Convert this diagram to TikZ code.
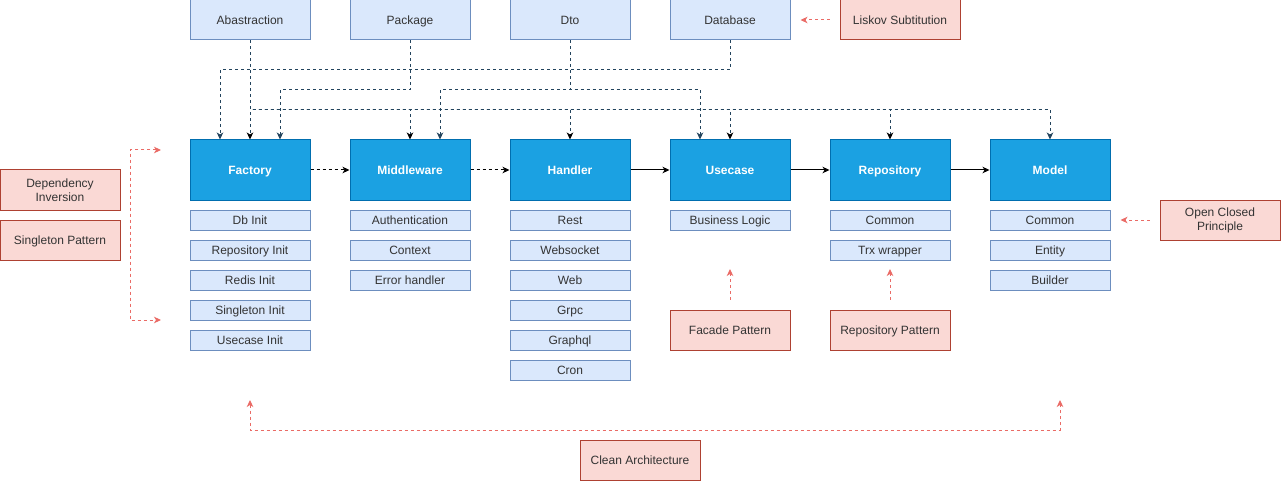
\documentclass[tikz,border=0pt]{standalone}
\usepackage{fontspec}
\setmainfont{Liberation Sans}
\usetikzlibrary{arrows.meta}
\definecolor{mainfill}{HTML}{1BA1E2}
\definecolor{mainline}{HTML}{006EAF}
\definecolor{subfill}{HTML}{DAE8FC}
\definecolor{subline}{HTML}{6C8EBF}
\definecolor{redfill}{HTML}{FAD9D5}
\definecolor{redline}{HTML}{AE4132}
\definecolor{redarrow}{HTML}{EA6B66}
\definecolor{darkline}{HTML}{23445D}
\definecolor{txt}{HTML}{333333}
\begin{document}
\begin{tikzpicture}[x=1pt,y=-1pt,line width=1pt,
  every node/.style={font=\fontsize{12}{14}\selectfont,align=center,inner sep=0pt,line width=1pt,text=txt},
  one/.style={text height=8.8pt,text depth=0.4pt},
  mainbox/.style={one,draw=mainline,fill=mainfill,text=white,font=\fontsize{12}{14}\selectfont\bfseries,minimum width=120pt,minimum height=60pt},
  subbox/.style={one,draw=subline,fill=subfill,minimum width=120pt,minimum height=20pt},
  topbox/.style={one,draw=subline,fill=subfill,minimum width=120pt,minimum height=40pt},
  notebox/.style={draw=redline,fill=redfill,minimum width=120pt,minimum height=40pt},
  tipb/.tip={Stealth[length=7pt,width=6.5pt,inset=2pt,color=black]},
  tipd/.tip={Stealth[length=7pt,width=6.5pt,inset=2pt,color=darkline]},
  tipr/.tip={Stealth[length=7pt,width=6.5pt,inset=2pt,color=redarrow]},
  depb/.style={draw=darkline,dash pattern=on 3pt off 3pt,-tipb},
  depd/.style={draw=darkline,dash pattern=on 3pt off 3pt,-tipd},
  flowd/.style={draw=black,dash pattern=on 3pt off 3pt,-tipb},
  flows/.style={draw=black,-tipb},
  redarr/.style={draw=redarrow,dash pattern=on 3pt off 3pt,-tipr},
  redboth/.style={draw=redarrow,dash pattern=on 3pt off 3pt,tipr-tipr}
]
\useasboundingbox (0,0) rectangle (1281,481);

% top boxes
\node[topbox] (abs) at (250,20) {Abastraction};
\node[topbox] (pkg) at (410,20) {Package};
\node[topbox] (dto) at (570,20) {Dto};
\node[topbox] (db)  at (730,20) {Database};
\node[notebox,one] (lsk) at (900,20) {Liskov Subtitution};

% main boxes
\node[mainbox] (fac) at (250,170) {Factory};
\node[mainbox] (mid) at (410,170) {Middleware};
\node[mainbox] (han) at (570,170) {Handler};
\node[mainbox] (uc)  at (730,170) {Usecase};
\node[mainbox] (rep) at (890,170) {Repository};
\node[mainbox] (mod) at (1050,170) {Model};

% sub boxes
\node[subbox] (f1) at (250,220) {Db Init};
\node[subbox] (f2) at (250,250) {Repository Init};
\node[subbox] (f3) at (250,280) {Redis Init};
\node[subbox] (f4) at (250,310) {Singleton Init};
\node[subbox] (f5) at (250,340) {Usecase Init};

\node[subbox] (m1) at (410,220) {Authentication};
\node[subbox] (m2) at (410,250) {Context};
\node[subbox] (m3) at (410,280) {Error handler};

\node[subbox] (h1) at (570,220) {Rest};
\node[subbox] (h2) at (570,250) {Websocket};
\node[subbox] (h3) at (570,280) {Web};
\node[subbox] (h4) at (570,310) {Grpc};
\node[subbox] (h5) at (570,340) {Graphql};
\node[subbox] (h6) at (570,370) {Cron};

\node[subbox] (u1) at (730,220) {Business Logic};

\node[subbox] (r1) at (890,220) {Common};
\node[subbox] (r2) at (890,250) {Trx wrapper};

\node[subbox] (o1) at (1050,220) {Common};
\node[subbox] (o2) at (1050,250) {Entity};
\node[subbox] (o3) at (1050,280) {Builder};

% note boxes
\node[notebox] (dip) at (60,190) {Dependency\\Inversion};
\node[notebox,one] (sgp) at (60,240) {Singleton Pattern};
\node[notebox,one] (fcp) at (730,330) {Facade Pattern};
\node[notebox,one] (rpp) at (890,330) {Repository Pattern};
\node[notebox] (ocp) at (1220,220) {Open Closed\\Principle};
\node[notebox,one] (cla) at (640,460) {Clean Architecture};

% bus levels
\coordinate (y70) at (0,70);
\coordinate (y90) at (0,90);
\coordinate (y110) at (0,110);

% Abastraction bus
\draw[depb] (abs.south) -- (fac.north);
\draw[depb] (abs.south) -- (abs.south |- y110) -| (mid.north);
\draw[depb] (abs.south) -- (abs.south |- y110) -| (han.north);
\draw[depb] (abs.south) -- (abs.south |- y110) -| (uc.north);
\draw[depb] (abs.south) -- (abs.south |- y110) -| (rep.north);
\draw[depd] (abs.south) -- (abs.south |- y110) -| (mod.north);

% Database
\draw[depd] (db.south) -- (db.south |- y70) -| ([xshift=-30pt]fac.north);
% Package
\draw[depd] (pkg.south) -- (pkg.south |- y90) -| ([xshift=30pt]fac.north);
% Dto
\draw[depd] (dto.south) -- (dto.south |- y90) -| ([xshift=30pt]mid.north);
\draw[depd] (dto.south) -- (dto.south |- y90) -| ([xshift=-30pt]uc.north);

% main flow
\draw[flowd] (fac) -- (mid);
\draw[flowd] (mid) -- (han);
\draw[flows] (han) -- (uc);
\draw[flows] (uc) -- (rep);
\draw[flows] (rep) -- (mod);

% red pattern arrows
\draw[redarr] ([xshift=-10pt]lsk.west) -- ([xshift=10pt]db.east);
\draw[redarr] ([xshift=-10pt]ocp.west) -- ([xshift=10pt]o1.east);
\coordinate (fct) at (730,269);
\coordinate (rpt) at (890,269);
\draw[redarr] ([yshift=10pt]fcp.north) -- (fct);
\draw[redarr] ([yshift=10pt]rpp.north) -- (rpt);

\coordinate (lb1) at (161,150);
\coordinate (lb2) at (161,320);
\coordinate (lc1) at (130,150);
\coordinate (lc2) at (130,320);
\draw[redboth] (lb1) -- (lc1) -- (lc2) -- (lb2);

\coordinate (bb1) at (250,400);
\coordinate (bb2) at (1060,400);
\coordinate (bc1) at (250,430);
\coordinate (bc2) at (1060,430);
\draw[redboth] (bb1) -- (bc1) -- (bc2) -- (bb2);
\end{tikzpicture}
\end{document}
